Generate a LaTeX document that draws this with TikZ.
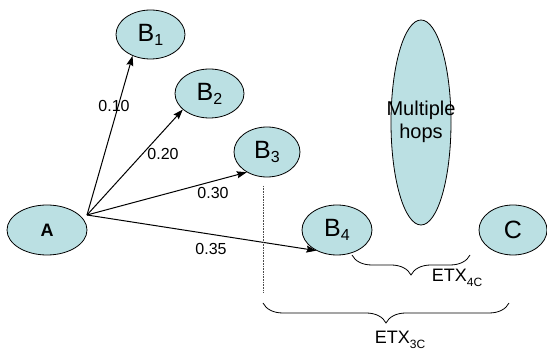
\documentclass[tikz,border=0pt]{standalone}
\usepackage{fontspec}
\setmainfont{Liberation Sans}
\usetikzlibrary{shapes.geometric,arrows.meta,decorations.pathreplacing}
\definecolor{nodefill}{RGB}{187,224,227}
\newcommand{\fsz}[1]{\fontsize{#1}{#1}\selectfont}
\newcommand{\bnode}[1]{\fsz{25}B\raisebox{-0.3ex}{\fsz{16}#1}}
\newcommand{\etx}[1]{\fsz{18}ETX\raisebox{-0.45ex}{\fsz{12}#1}}
\begin{document}
\begin{tikzpicture}[x=1pt,y=-1pt,
  station/.style={ellipse,draw=black,line width=0.8pt,fill=nodefill,inner sep=0pt},
  link/.style={line width=1pt,-{Stealth[length=10pt,width=7pt,inset=1.5pt]}},
  weight/.style={font=\fsz{16},inner sep=0pt},
  bracebig/.style={decorate,decoration={brace,amplitude=20pt,aspect=0.5},line width=0.8pt}]
  \useasboundingbox (0,0) rectangle (547,352);

  % stations
  \node[station,minimum width=80pt,minimum height=50pt] (A) at (47,230) {\fsz{18}\bfseries A};
  \node[station,minimum width=69pt,minimum height=49pt] (B1) at (150.5,34.5) {\bnode{1}};
  \node[station,minimum width=69pt,minimum height=49pt] (B2) at (209.5,93.5) {\bnode{2}};
  \node[station,minimum width=66pt,minimum height=50pt] (B3) at (267,152) {\bnode{3}};
  \node[station,minimum width=70pt,minimum height=50pt] (B4) at (337,230) {\bnode{4}};
  \node[station,minimum width=68pt,minimum height=50pt] (C) at (513,230) {\fsz{25}C};
  \node[station,minimum width=60pt,minimum height=205pt] (hops) at (421,122.5) {};
  \node[align=center,font=\fontsize{20}{23}\selectfont,inner sep=0pt] (hopstext) at (421,122) {Multiple\\hops};

  % links from A
  \coordinate (src) at (87,215);
  \draw[link] (src) -- (B1.230);
  \draw[link] (src) -- (B2.211);
  \draw[link] (src) -- (B3.225);
  \draw[link] (src) -- (B4.225);

  % link weights
  \node[weight] (w1) at (114,106) {0.10};
  \node[weight] (w2) at (163,154) {0.20};
  \node[weight] (w3) at (213,193) {0.30};
  \node[weight] (w4) at (211,249) {0.35};

  % dotted marker below B3
  \coordinate (dtop) at (263,186);
  \coordinate (dbot) at (263,293);
  \draw[densely dotted,line width=0.6pt,black!70] (dtop) -- (dbot);

  % braces
  \coordinate (s1) at (352,255);
  \coordinate (s2) at (470,255);
  \draw[bracebig] (s2) -- (s1);
  \node[inner sep=0pt] (etx4) at (457,278) {\etx{4C}};

  \coordinate (t1) at (263,303);
  \coordinate (t2) at (509,303);
  \draw[bracebig] (t2) -- (t1);
  \node[inner sep=0pt] (etx3) at (400,340) {\etx{3C}};
\end{tikzpicture}
\end{document}
